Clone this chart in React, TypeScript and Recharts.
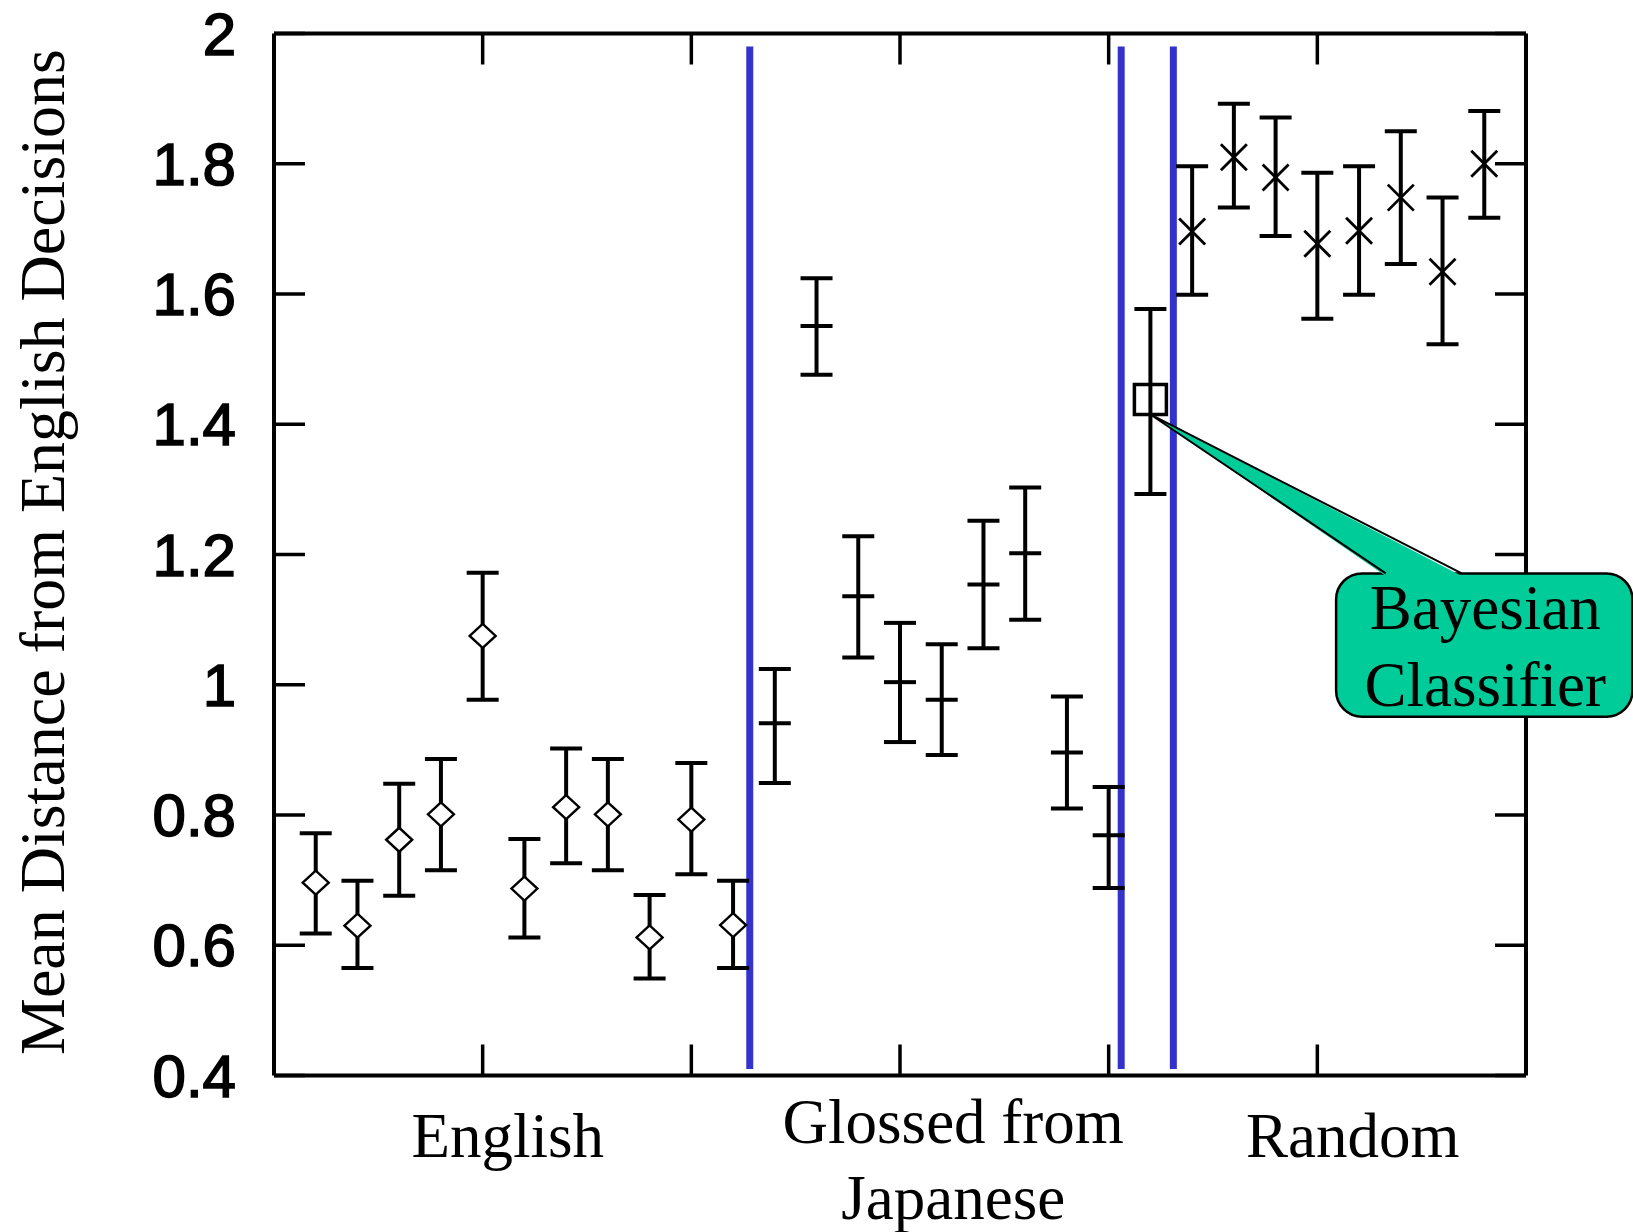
import React from 'react';
import {
  ScatterChart,
  Scatter,
  XAxis,
  YAxis,
  ErrorBar,
  ReferenceLine,
  ReferenceDot,
} from 'recharts';

// ---------- data ----------
const englishX = [0.2, 0.4, 0.6, 0.8, 1.0, 1.2, 1.4, 1.6, 1.8, 2.0, 2.2];
const englishMean = [0.696, 0.630, 0.762, 0.801, 1.075, 0.687, 0.812, 0.801, 0.612, 0.793, 0.631];
const englishLow = [0.618, 0.565, 0.676, 0.715, 0.977, 0.612, 0.726, 0.715, 0.549, 0.709, 0.565];
const englishHigh = [0.772, 0.699, 0.848, 0.886, 1.172, 0.763, 0.902, 0.886, 0.677, 0.880, 0.699];

const glossedX = [2.4, 2.6, 2.8, 3.0, 3.2, 3.4, 3.6, 3.8, 4.0];
const glossedMean = [0.941, 1.551, 1.136, 1.004, 0.977, 1.154, 1.202, 0.896, 0.769];
const glossedLow = [0.849, 1.476, 1.042, 0.912, 0.892, 1.056, 1.100, 0.810, 0.688];
const glossedHigh = [1.024, 1.624, 1.228, 1.095, 1.062, 1.252, 1.303, 0.982, 0.843];

const bayesX = [4.2];
const bayesMean = [1.438];
const bayesLow = [1.293];
const bayesHigh = [1.577];

const randomX = [4.4, 4.6, 4.8, 5.0, 5.2, 5.4, 5.6, 5.8];
const randomMean = [1.696, 1.810, 1.779, 1.677, 1.697, 1.748, 1.634, 1.800];
const randomLow = [1.599, 1.733, 1.689, 1.562, 1.599, 1.646, 1.523, 1.717];
const randomHigh = [1.796, 1.892, 1.871, 1.786, 1.796, 1.850, 1.748, 1.881];

const separatorX = [2.28, 4.06, 4.31];
const separatorRange = [0.41, 1.98];

const xDomain = [0, 6];
const yDomain = [0.4, 2];
const yTicks = [0.4, 0.6, 0.8, 1.0, 1.2, 1.4, 1.6, 1.8, 2.0];
const yTickLabels = ['0.4', '0.6', '0.8', '1', '1.2', '1.4', '1.6', '1.8', '2'];
const xTicks = [1, 2, 3, 4, 5];

const groupCenters = [1.12, 3.255, 5.17];
const groupLabels = [['English'], ['Glossed from', 'Japanese'], ['Random']];

const yTitle = 'Mean Distance from English Decisions';
const calloutLines = ['Bayesian', 'Classifier'];
const calloutBoxX = [5.09, 6.51];
const calloutBoxY = [0.951, 1.171];
const calloutTip = { x: 4.2, y: 1.415 };
const calloutBaseMid = { x: 5.51, y: 1.171 };

// ---------- helpers ----------
const build = (xs: number[], m: number[], lo: number[], hi: number[]) =>
  xs.map((x, i) => ({ x, y: m[i], err: [m[i] - lo[i], hi[i] - m[i]] }));

const englishData = build(englishX, englishMean, englishLow, englishHigh);
const glossedData = build(glossedX, glossedMean, glossedLow, glossedHigh);
const bayesData = build(bayesX, bayesMean, bayesLow, bayesHigh);
const randomData = build(randomX, randomMean, randomLow, randomHigh);

const SANS = '"Liberation Sans", Arial, sans-serif';
const SERIF = '"Liberation Serif", "Times New Roman", serif';
const BLUE = '#3333CC';
const GREEN = '#00CC99';
const TICK = 31;
const LW = 4;

const Diamond = (p: any) => {
  const { cx, cy } = p;
  if (cx == null || cy == null) return null;
  const w = 13;
  const h = 12;
  return (
    <path
      d={`M${cx - w},${cy} L${cx},${cy - h} L${cx + w},${cy} L${cx},${cy + h} Z`}
      fill="#fff"
      stroke="#000"
      strokeWidth={2.4}
    />
  );
};

const PlusMark = (p: any) => {
  const { cx, cy } = p;
  if (cx == null || cy == null) return null;
  return <line x1={cx - 16} x2={cx + 16} y1={cy} y2={cy} stroke="#000" strokeWidth={LW} />;
};

const SquareMark = (p: any) => {
  const { cx, cy } = p;
  if (cx == null || cy == null) return null;
  return <rect x={cx - 16} y={cy - 15} width={32} height={30} fill="none" stroke="#000" strokeWidth={3.5} />;
};

const CrossMark = (p: any) => {
  const { cx, cy } = p;
  if (cx == null || cy == null) return null;
  const s = 13;
  return (
    <g stroke="#000" strokeWidth={2.8}>
      <line x1={cx - s} y1={cy - s} x2={cx + s} y2={cy + s} />
      <line x1={cx - s} y1={cy + s} x2={cx + s} y2={cy - s} />
    </g>
  );
};

const LeftTick = (p: any) => {
  const { x, y, payload } = p;
  const idx = yTicks.findIndex((t) => Math.abs(t - payload.value) < 1e-6);
  return (
    <g>
      <line x1={x} x2={x + TICK} y1={y} y2={y} stroke="#000" strokeWidth={3.5} />
      <text
        x={x - 38}
        y={y + 21}
        textAnchor="end"
        fontFamily={SANS}
        fontSize={60}
        fill="#000"
        stroke="#000"
        strokeWidth={1.6}
      >
        {idx >= 0 ? yTickLabels[idx] : ''}
      </text>
    </g>
  );
};

const BottomTick = (p: any) => {
  const { x, y } = p;
  return <line x1={x} x2={x} y1={y} y2={y - TICK} stroke="#000" strokeWidth={3.5} />;
};

// tick drawn from the first end of a reference segment, inward, in pixels
const TopTickShape = (p: any) => {
  const { x1, y1 } = p;
  if (x1 == null) return null;
  return <line x1={x1} x2={x1} y1={y1} y2={y1 + TICK} stroke="#000" strokeWidth={3.5} />;
};

const RightTickShape = (p: any) => {
  const { x1, y1 } = p;
  if (x1 == null) return null;
  return <line x1={x1 - TICK} x2={x1} y1={y1} y2={y1} stroke="#000" strokeWidth={3.5} />;
};

const GroupLabel = (lines: string[]) => (p: any) => {
  const { cx, cy } = p;
  if (cx == null || cy == null) return null;
  const first = lines.length > 1 ? 67.5 : 81.5;
  return (
    <g>
      {lines.map((t, i) => (
        <text
          key={i}
          x={cx}
          y={cy + first + i * 76}
          textAnchor="middle"
          fontFamily={SERIF}
          fontSize={63}
          fill="#000"
        >
          {t}
        </text>
      ))}
    </g>
  );
};

// callout box: drawn from the diagonal of a reference segment
const CalloutBox = (p: any) => {
  const { x1, y1, x2, y2 } = p;
  if (x1 == null) return null;
  const x = Math.min(x1, x2);
  const y = Math.min(y1, y2);
  const width = Math.abs(x2 - x1);
  const height = Math.abs(y2 - y1);
  return (
    <g>
      <rect x={x} y={y} width={width} height={height} rx={26} ry={26} fill={GREEN} stroke="#000" strokeWidth={2.5} />
      {calloutLines.map((t, i) => (
        <text
          key={i}
          x={x + width / 2 + 1}
          y={y + 56 + i * 77}
          textAnchor="middle"
          fontFamily={SERIF}
          fontSize={63}
          fill="#000"
        >
          {t}
        </text>
      ))}
    </g>
  );
};

const CalloutPointer = (p: any) => {
  const { x1, y1, x2, y2 } = p;
  if (x1 == null) return null;
  const half = 38;
  const bl = x2 - half;
  const br = x2 + half;
  return (
    <g>
      <path d={`M${x1},${y1} L${bl},${y2 + 2.5} L${br},${y2 + 2.5} Z`} fill={GREEN} stroke="none" />
      <path d={`M${bl},${y2} L${x1},${y1} L${br},${y2}`} fill="none" stroke="#000" strokeWidth={2} />
    </g>
  );
};

const axisLine = { stroke: '#000', strokeWidth: LW };

export default function App() {
  return (
    <div style={{ position: 'absolute', left: 0, top: 0, width: 1633, height: 1232, background: '#fff' }}>
      <ScatterChart
        width={1633}
        height={1232}
        margin={{ top: 33.5, right: 107, bottom: 0, left: 0 }}
      >
        <XAxis
          xAxisId="b"
          type="number"
          dataKey="x"
          domain={xDomain}
          ticks={xTicks}
          interval={0}
          orientation="bottom"
          height={156.5}
          tickSize={0}
          tickMargin={0}
          tickLine={false}
          tick={<BottomTick />}
          axisLine={axisLine}
          allowDataOverflow
        />
        <YAxis
          yAxisId="l"
          type="number"
          dataKey="y"
          domain={yDomain}
          ticks={yTicks}
          interval={0}
          orientation="left"
          width={274}
          tickSize={0}
          tickMargin={0}
          tickLine={false}
          tick={<LeftTick />}
          axisLine={axisLine}
          allowDataOverflow
        />

        {/* mirrored frame: top and right borders with inward ticks */}
        <ReferenceLine xAxisId="b" yAxisId="l" y={yDomain[1]} stroke="#000" strokeWidth={LW} ifOverflow="visible" />
        <ReferenceLine xAxisId="b" yAxisId="l" x={xDomain[1]} stroke="#000" strokeWidth={LW} ifOverflow="visible" />
        {xTicks.map((t) => (
          <ReferenceLine
            key={`tt${t}`}
            xAxisId="b"
            yAxisId="l"
            segment={[
              { x: t, y: yDomain[1] },
              { x: t, y: yDomain[1] - 0.05 },
            ]}
            ifOverflow="visible"
            shape={<TopTickShape />}
          />
        ))}
        {yTicks.map((t) => (
          <ReferenceLine
            key={`rt${t}`}
            xAxisId="b"
            yAxisId="l"
            segment={[
              { x: xDomain[1], y: t },
              { x: xDomain[1] - 0.1, y: t },
            ]}
            ifOverflow="visible"
            shape={<RightTickShape />}
          />
        ))}

        {separatorX.map((sx, i) => (
          <ReferenceLine
            key={`sep${i}`}
            xAxisId="b"
            yAxisId="l"
            segment={[
              { x: sx, y: separatorRange[0] },
              { x: sx, y: separatorRange[1] },
            ]}
            stroke={BLUE}
            strokeWidth={7}
            ifOverflow="visible"
          />
        ))}

        <Scatter xAxisId="b" yAxisId="l" data={englishData} shape={<Diamond />} isAnimationActive={false}>
          <ErrorBar dataKey="err" direction="y" width={16} stroke="#000" strokeWidth={LW} isAnimationActive={false} />
        </Scatter>
        <Scatter xAxisId="b" yAxisId="l" data={glossedData} shape={<PlusMark />} isAnimationActive={false}>
          <ErrorBar dataKey="err" direction="y" width={16} stroke="#000" strokeWidth={LW} isAnimationActive={false} />
        </Scatter>
        <Scatter xAxisId="b" yAxisId="l" data={bayesData} shape={<SquareMark />} isAnimationActive={false}>
          <ErrorBar dataKey="err" direction="y" width={16} stroke="#000" strokeWidth={LW} isAnimationActive={false} />
        </Scatter>
        <Scatter xAxisId="b" yAxisId="l" data={randomData} shape={<CrossMark />} isAnimationActive={false}>
          <ErrorBar dataKey="err" direction="y" width={16} stroke="#000" strokeWidth={LW} isAnimationActive={false} />
        </Scatter>

        <ReferenceLine
          xAxisId="b"
          yAxisId="l"
          segment={[
            { x: calloutBoxX[0], y: calloutBoxY[1] },
            { x: calloutBoxX[1], y: calloutBoxY[0] },
          ]}
          ifOverflow="visible"
          shape={<CalloutBox />}
        />
        <ReferenceLine
          xAxisId="b"
          yAxisId="l"
          segment={[calloutTip, calloutBaseMid]}
          ifOverflow="visible"
          shape={<CalloutPointer />}
        />

        {groupCenters.map((gx, i) => (
          <ReferenceDot
            key={`g${i}`}
            xAxisId="b"
            yAxisId="l"
            x={gx}
            y={yDomain[0]}
            r={0}
            ifOverflow="visible"
            shape={GroupLabel(groupLabels[i])}
          />
        ))}

        <text
          x={64}
          y={552}
          transform="rotate(-90, 64, 552)"
          textAnchor="middle"
          fontFamily={SERIF}
          fontSize={64}
          fill="#000"
        >
          {yTitle}
        </text>
      </ScatterChart>
    </div>
  );
}
